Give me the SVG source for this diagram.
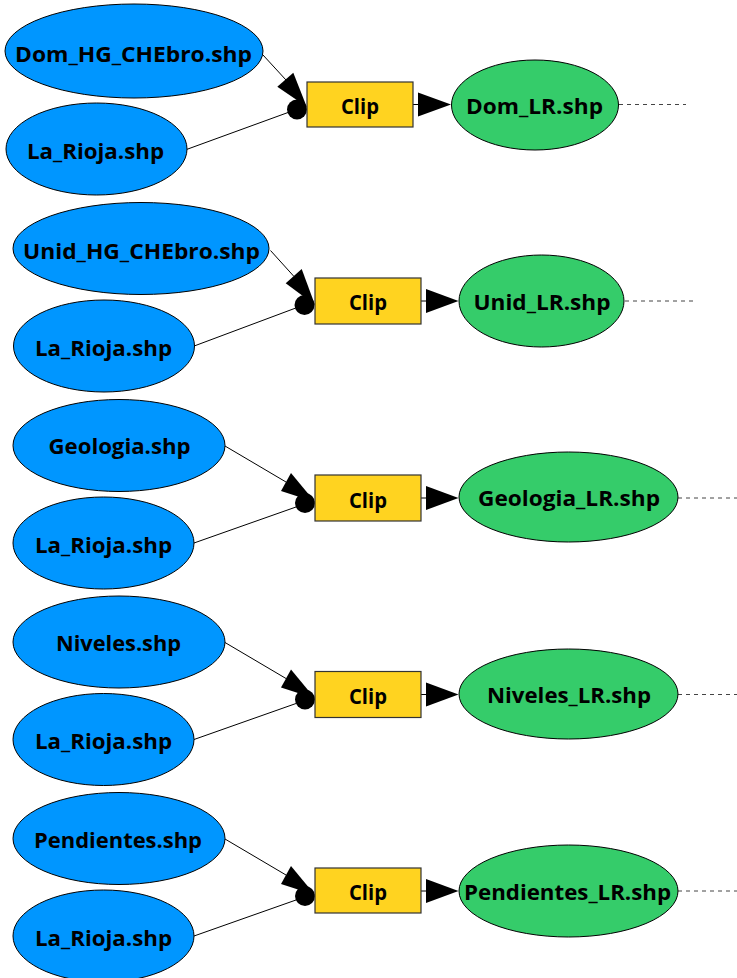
<svg xmlns="http://www.w3.org/2000/svg" width="737" height="978" viewBox="0 0 737 978">
<style>
  .in { fill: #0096FF; stroke: #000; stroke-width: 1; }
  .out { fill: #35CC6A; stroke: #000; stroke-width: 1; }
  .tool { fill: #FFD320; stroke: #333; stroke-width: 1.2; }
  .lbl { font-family: "Open Sans", "Liberation Sans", sans-serif; font-weight: bold; font-size: 21.5px; fill: #000; text-anchor: middle; }
  .ln { stroke: #000; stroke-width: 1; fill: none; }
  .dash { stroke: #444; stroke-width: 1; stroke-dasharray: 4 4; fill: none; }
  .head { fill: #000; stroke: none; }
</style>
<rect width="737" height="978" fill="#fff"/>

<g id="connectors">
  <!-- Row 1 -->
  <line class="ln" x1="263" y1="55" x2="286" y2="80"/>
  <polygon class="head" points="277.3,86.7 293.3,72.7 306.7,106.7"/>
  <line class="ln" x1="187" y1="149.3" x2="288" y2="112.5"/>
  <circle class="head" cx="297" cy="109.5" r="10"/>
  <line class="ln" x1="413" y1="104.5" x2="418" y2="104.5"/>
  <polygon class="head" points="418,92.5 451,104.5 418,116.5"/>
  <line class="dash" x1="619" y1="104.5" x2="686" y2="104.5"/>

  <!-- Row 2 -->
  <line class="ln" x1="270.5" y1="250.5" x2="294" y2="276.5"/>
  <polygon class="head" points="285.7,283.3 301.7,269 315,305"/>
  <line class="ln" x1="195" y1="345.7" x2="295" y2="308.3"/>
  <circle class="head" cx="304.5" cy="305" r="10"/>
  <line class="ln" x1="421" y1="301" x2="426" y2="301"/>
  <polygon class="head" points="426,289 458.5,301 426,313"/>
  <line class="dash" x1="625" y1="301" x2="693" y2="301"/>

  <!-- Row 3 -->
  <line class="ln" x1="225" y1="446" x2="286" y2="482"/>
  <polygon class="head" points="281,491 291,473 315,502"/>
  <line class="ln" x1="194" y1="543" x2="296" y2="507"/>
  <circle class="head" cx="305" cy="503" r="10"/>
  <line class="ln" x1="421" y1="498" x2="426" y2="498"/>
  <polygon class="head" points="426,486 458.5,498 426,510"/>
  <line class="dash" x1="678" y1="498" x2="737" y2="498"/>

  <!-- Row 4 -->
  <line class="ln" x1="225" y1="642.5" x2="286" y2="678.5"/>
  <polygon class="head" points="281,687.5 291,669.5 315,698.5"/>
  <line class="ln" x1="194" y1="739.5" x2="296" y2="703.5"/>
  <circle class="head" cx="305" cy="699.5" r="10"/>
  <line class="ln" x1="421" y1="694.5" x2="426" y2="694.5"/>
  <polygon class="head" points="426,682.5 458.5,694.5 426,706.5"/>
  <line class="dash" x1="678" y1="694.5" x2="737" y2="694.5"/>

  <!-- Row 5 -->
  <line class="ln" x1="225" y1="839" x2="286" y2="875"/>
  <polygon class="head" points="281,884 291,866 315,895"/>
  <line class="ln" x1="194" y1="936" x2="296" y2="900"/>
  <circle class="head" cx="305" cy="896" r="10"/>
  <line class="ln" x1="421" y1="891" x2="426" y2="891"/>
  <polygon class="head" points="426,879 458.5,891 426,903"/>
  <line class="dash" x1="678" y1="891" x2="737" y2="891"/>
</g>

<!-- Row 1 nodes -->
<g id="dom_hg">
  <ellipse class="in" cx="134" cy="51" rx="129" ry="47"/>
  <text class="lbl" x="133.5" y="62" textLength="237" lengthAdjust="spacingAndGlyphs">Dom_HG_CHEbro.shp</text>
</g>
<g id="la_rioja_1">
  <ellipse class="in" cx="96.5" cy="149" rx="90.5" ry="46"/>
  <text class="lbl" x="95.5" y="158.5" textLength="137" lengthAdjust="spacingAndGlyphs">La_Rioja.shp</text>
</g>
<g id="clip_1">
  <rect class="tool" x="307" y="82" width="106" height="45"/>
  <text class="lbl" x="360" y="113.5" textLength="38" lengthAdjust="spacingAndGlyphs">Clip</text>
</g>
<g id="dom_lr">
  <ellipse class="out" cx="535" cy="105" rx="83.5" ry="45"/>
  <text class="lbl" x="534.5" y="113.5" textLength="137" lengthAdjust="spacingAndGlyphs">Dom_LR.shp</text>
</g>

<!-- Row 2 nodes -->
<g id="unid_hg">
  <ellipse class="in" cx="141" cy="248.5" rx="128" ry="46"/>
  <text class="lbl" x="141.5" y="258.5" textLength="237" lengthAdjust="spacingAndGlyphs">Unid_HG_CHEbro.shp</text>
</g>
<g id="la_rioja_2">
  <ellipse class="in" cx="104" cy="346" rx="90.5" ry="46"/>
  <text class="lbl" x="103.5" y="355.5" textLength="137" lengthAdjust="spacingAndGlyphs">La_Rioja.shp</text>
</g>
<g id="clip_2">
  <rect class="tool" x="315" y="278" width="106" height="46"/>
  <text class="lbl" x="368" y="310" textLength="38" lengthAdjust="spacingAndGlyphs">Clip</text>
</g>
<g id="unid_lr">
  <ellipse class="out" cx="541.5" cy="301" rx="82.5" ry="46"/>
  <text class="lbl" x="542" y="310" textLength="137" lengthAdjust="spacingAndGlyphs">Unid_LR.shp</text>
</g>

<!-- Row 3 nodes -->
<g id="geologia">
  <ellipse class="in" cx="119" cy="445.5" rx="106" ry="46"/>
  <text class="lbl" x="119.5" y="454" textLength="142" lengthAdjust="spacingAndGlyphs">Geologia.shp</text>
</g>
<g id="la_rioja_3">
  <ellipse class="in" cx="103.5" cy="543" rx="90.5" ry="46"/>
  <text class="lbl" x="103.5" y="552.5" textLength="137" lengthAdjust="spacingAndGlyphs">La_Rioja.shp</text>
</g>
<g id="clip_3">
  <rect class="tool" x="315" y="475" width="106" height="46"/>
  <text class="lbl" x="368" y="507.5" textLength="38" lengthAdjust="spacingAndGlyphs">Clip</text>
</g>
<g id="geologia_lr">
  <ellipse class="out" cx="568.5" cy="497" rx="109.5" ry="45"/>
  <text class="lbl" x="569" y="506" textLength="182" lengthAdjust="spacingAndGlyphs">Geologia_LR.shp</text>
</g>

<!-- Row 4 nodes -->
<g id="niveles">
  <ellipse class="in" cx="119" cy="642" rx="106" ry="46"/>
  <text class="lbl" x="118.5" y="651" textLength="125" lengthAdjust="spacingAndGlyphs">Niveles.shp</text>
</g>
<g id="la_rioja_4">
  <ellipse class="in" cx="103.5" cy="739.5" rx="90.5" ry="46"/>
  <text class="lbl" x="103.5" y="749" textLength="137" lengthAdjust="spacingAndGlyphs">La_Rioja.shp</text>
</g>
<g id="clip_4">
  <rect class="tool" x="315" y="671.5" width="106" height="46"/>
  <text class="lbl" x="368" y="704" textLength="38" lengthAdjust="spacingAndGlyphs">Clip</text>
</g>
<g id="niveles_lr">
  <ellipse class="out" cx="568.5" cy="694" rx="109.5" ry="45"/>
  <text class="lbl" x="569" y="703" textLength="164" lengthAdjust="spacingAndGlyphs">Niveles_LR.shp</text>
</g>

<!-- Row 5 nodes -->
<g id="pendientes">
  <ellipse class="in" cx="119" cy="838.5" rx="106" ry="46"/>
  <text class="lbl" x="118" y="848" textLength="168" lengthAdjust="spacingAndGlyphs">Pendientes.shp</text>
</g>
<g id="la_rioja_5">
  <ellipse class="in" cx="103.5" cy="936" rx="90.5" ry="46"/>
  <text class="lbl" x="103.5" y="945.5" textLength="137" lengthAdjust="spacingAndGlyphs">La_Rioja.shp</text>
</g>
<g id="clip_5">
  <rect class="tool" x="315" y="868" width="106" height="45"/>
  <text class="lbl" x="368" y="900" textLength="38" lengthAdjust="spacingAndGlyphs">Clip</text>
</g>
<g id="pendientes_lr">
  <ellipse class="out" cx="568.5" cy="891" rx="109.5" ry="46"/>
  <text class="lbl" x="567.5" y="900" textLength="207" lengthAdjust="spacingAndGlyphs">Pendientes_LR.shp</text>
</g>
</svg>
